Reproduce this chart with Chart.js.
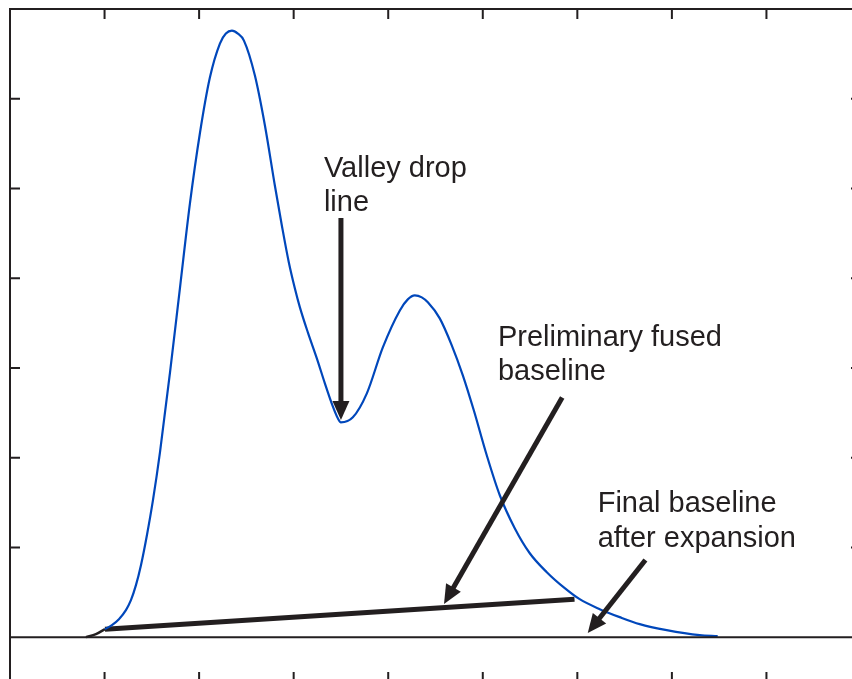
<!DOCTYPE html>
<html>
<head>
<meta charset="utf-8">
<title>Valley drop baseline</title>
<script src="https://cdn.jsdelivr.net/npm/chart.js@4/dist/chart.umd.min.js"></script>
<style>
    html, body { margin: 0; padding: 0; background: #fff; overflow: hidden; }
    #wrap { width: 852px; height: 679px; overflow: hidden; }
    canvas { display: block; }
</style>
</head>
<body>
<div id="wrap"><canvas id="PeakChart" width="880" height="700"></canvas></div>
<script>
(function () {
    "use strict";

    // Colors
    const ink = "#231f20";
    const blue = "#0047bb";

    // Chromatogram trace (x = time units, y = signal units)
    const traceX = [1.004, 1.078, 1.152, 1.226, 1.279, 1.332, 1.385, 1.448, 1.512, 1.586, 1.691, 1.797, 1.903, 2.008,
        2.114, 2.220, 2.283, 2.347, 2.410, 2.474, 2.590, 2.696, 2.801, 2.875, 2.949, 3.013, 3.066, 3.150, 3.245,
        3.330, 3.414, 3.467, 3.499,
        3.626, 3.774, 3.943, 4.123, 4.207, 4.281, 4.355, 4.419, 4.545, 4.672, 4.789, 4.905, 5.042, 5.180, 5.338,
        5.497, 5.677, 5.867, 6.025, 6.237, 6.448, 6.660, 6.945, 7.294, 7.484];
    const traceY = [0.089, 0.134, 0.200, 0.301, 0.412, 0.579, 0.802, 1.136, 1.526, 2.060, 2.940, 3.887, 4.833, 5.613,
        6.236, 6.615, 6.726, 6.759, 6.726, 6.648, 6.258, 5.702, 5.033, 4.588, 4.176, 3.886, 3.675, 3.396, 3.107,
        2.829, 2.572, 2.439, 2.394,
        2.450, 2.717, 3.229, 3.641, 3.764, 3.808, 3.786, 3.731, 3.552, 3.252, 2.918, 2.528, 2.027, 1.581, 1.214,
        0.935, 0.724, 0.546, 0.423, 0.312, 0.223, 0.145, 0.078, 0.022, 0.011];

    // part of the trace before the baseline start
    const leadX = [0.803, 0.909, 1.004];
    const leadY = [0.000, 0.033, 0.089];

    // preliminary fused baseline
    const fusedX = [1.004, 5.970];
    const fusedY = [0.089, 0.423];

    // final baseline after expansion (zero level)
    const zeroX = [0, 9];
    const zeroY = [0, 0];

    // axis ticks
    const xTicks = [1, 2, 3, 4, 5, 6, 7, 8];
    const yTicks = [1, 2, 3, 4, 5, 6];

    // annotation arrows
    const arrowFromX = [3.50, 5.84, 6.72];
    const arrowFromY = [4.67, 2.67, 0.86];
    const arrowToX = [3.50, 4.59, 6.11];
    const arrowToY = [2.42, 0.37, 0.045];

    // annotation labels
    const labelLines = [["Valley drop", "line"], ["Preliminary fused", "baseline"], ["Final baseline", "after expansion"]];
    const labelX = [3.32, 5.16, 6.215];
    const labelY = [5.13, 3.25, 1.39];

    function toPoints(xs, ys) {
        return xs.map(function (x, i) { return { x: x, y: ys[i] }; });
    }

    // frame with inward ticks on all four sides
    const framePlugin = {
        id: "frame",
        afterDatasetsDraw: function (chart) {
            const ctx = chart.ctx;
            const a = chart.chartArea;
            const sx = chart.scales.x;
            const sy = chart.scales.y;
            const len = 10;
            ctx.save();
            ctx.strokeStyle = ink;
            ctx.lineWidth = 2;
            ctx.beginPath();
            ctx.rect(a.left, a.top, a.right - a.left, a.bottom - a.top);
            xTicks.forEach(function (t) {
                const px = sx.getPixelForValue(t);
                ctx.moveTo(px, a.top);
                ctx.lineTo(px, a.top + len);
                ctx.moveTo(px, a.bottom);
                ctx.lineTo(px, a.bottom - len);
            });
            yTicks.forEach(function (t) {
                const py = sy.getPixelForValue(t);
                ctx.moveTo(a.left, py);
                ctx.lineTo(a.left + len, py);
                ctx.moveTo(a.right, py);
                ctx.lineTo(a.right - len, py);
            });
            ctx.stroke();
            ctx.restore();
        },
    };

    // arrows and text labels
    const notesPlugin = {
        id: "notes",
        afterDraw: function (chart) {
            const ctx = chart.ctx;
            const sx = chart.scales.x;
            const sy = chart.scales.y;
            ctx.save();
            ctx.strokeStyle = ink;
            ctx.fillStyle = ink;
            arrowFromX.forEach(function (v, i) {
                const x1 = sx.getPixelForValue(v);
                const y1 = sy.getPixelForValue(arrowFromY[i]);
                const x2 = sx.getPixelForValue(arrowToX[i]);
                const y2 = sy.getPixelForValue(arrowToY[i]);
                const ang = Math.atan2(y2 - y1, x2 - x1);
                const headLen = 19;
                const headHalf = 8.5;
                const bx = x2 - headLen * Math.cos(ang);
                const by = y2 - headLen * Math.sin(ang);
                ctx.lineWidth = 5;
                ctx.lineCap = "butt";
                ctx.beginPath();
                ctx.moveTo(x1, y1);
                ctx.lineTo(bx + 2 * Math.cos(ang), by + 2 * Math.sin(ang));
                ctx.stroke();
                ctx.beginPath();
                ctx.moveTo(x2, y2);
                ctx.lineTo(bx + headHalf * Math.sin(ang), by - headHalf * Math.cos(ang));
                ctx.lineTo(bx - headHalf * Math.sin(ang), by + headHalf * Math.cos(ang));
                ctx.closePath();
                ctx.fill();
            });
            ctx.font = "29px 'Liberation Sans', Arial, sans-serif";
            ctx.textAlign = "left";
            ctx.textBaseline = "alphabetic";
            labelLines.forEach(function (lines, i) {
                const px = sx.getPixelForValue(labelX[i]);
                const py = sy.getPixelForValue(labelY[i]);
                lines.forEach(function (s, j) {
                    ctx.fillText(s, px, py + j * 34.5);
                });
            });
            ctx.restore();
        },
    };

    const el = document.getElementById("PeakChart");
    if (el != null) {
        const ctp = el.getContext("2d");
        const PeakChart = new Chart(ctp, {
            type: "line",
            data: {
                datasets: [
                    {
                        label: "Final baseline",
                        data: toPoints(zeroX, zeroY),
                        borderColor: ink,
                        borderWidth: 2,
                        pointRadius: 0,
                    },
                    {
                        label: "Trace",
                        data: toPoints(traceX, traceY),
                        borderColor: blue,
                        borderWidth: 2.2,
                        pointRadius: 0,
                        cubicInterpolationMode: "monotone",
                    },
                    {
                        label: "Lead-in",
                        data: toPoints(leadX, leadY),
                        borderColor: ink,
                        borderWidth: 2.5,
                        pointRadius: 0,
                        cubicInterpolationMode: "monotone",
                    },
                    {
                        label: "Preliminary fused baseline",
                        data: toPoints(fusedX, fusedY),
                        borderColor: ink,
                        borderWidth: 5,
                        pointRadius: 0,
                    },
                ],
            },
            options: {
                responsive: false,
                animation: false,
                layout: {
                    padding: { left: 10, top: 9, right: 19, bottom: 18 },
                },
                scales: {
                    x: { type: "linear", display: false, min: 0, max: 9 },
                    y: { type: "linear", display: false, min: -0.5, max: 7 },
                },
                plugins: {
                    legend: { display: false },
                    tooltip: { enabled: false },
                },
            },
            plugins: [framePlugin, notesPlugin],
        });
    }
})();
</script>
</body>
</html>
